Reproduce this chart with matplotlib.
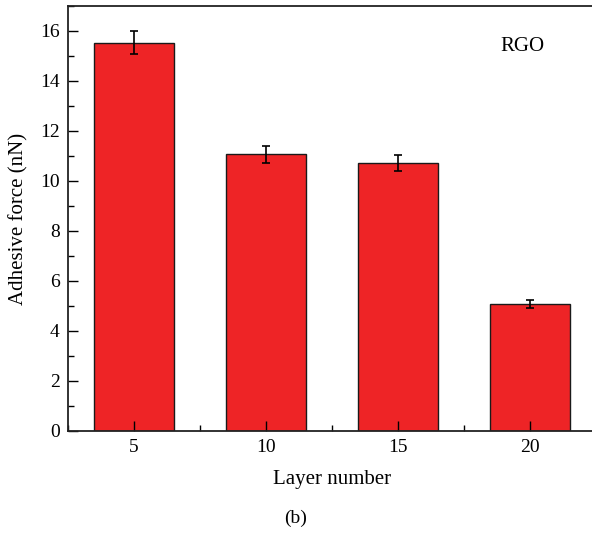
import numpy as np
import matplotlib.pyplot as plt
from matplotlib.ticker import MultipleLocator

# layer number vs. adhesive force
layers = [5, 10, 15, 20]
force = [15.53, 11.06, 10.72, 5.07]
force_err = [0.46, 0.33, 0.32, 0.15]

plt.rcParams['font.family'] = ['Liberation Serif', 'DejaVu Serif']

fig = plt.figure(figsize=(5.92, 5.34), dpi=100)
ax = fig.add_axes([0.1149, 0.1929, 0.892, 0.7959])

ax.bar(layers, force, width=3.0, color='#ee2426', edgecolor='#1a1a1a', linewidth=1.0,
       yerr=force_err, error_kw=dict(ecolor='black', elinewidth=1.2, capsize=3, capthick=1.2))

ax.set_xlim(2.5, 22.5)
ax.set_ylim(0, 17)
ax.set_xticks(layers)
ax.xaxis.set_minor_locator(MultipleLocator(2.5))
ax.yaxis.set_major_locator(MultipleLocator(2))
ax.yaxis.set_minor_locator(MultipleLocator(1))
ax.tick_params(which='both', direction='in', labelsize=14, width=1.0)
ax.tick_params(which='major', length=7, pad=6)
ax.tick_params(which='minor', length=4)
for s in ax.spines.values():
    s.set_linewidth(1.3)
    s.set_color('#222222')

ax.set_xlabel('Layer number', fontsize=15, labelpad=10)
ax.set_ylabel('Adhesive force (nN)', fontsize=15, labelpad=8)
ax.text(0.86, 0.905, 'RGO', transform=ax.transAxes, fontsize=15, ha='center', va='center')
fig.text(0.5, 0.03, '(b)', fontsize=14, ha='center', va='center')

plt.savefig('out.png', dpi=100)
